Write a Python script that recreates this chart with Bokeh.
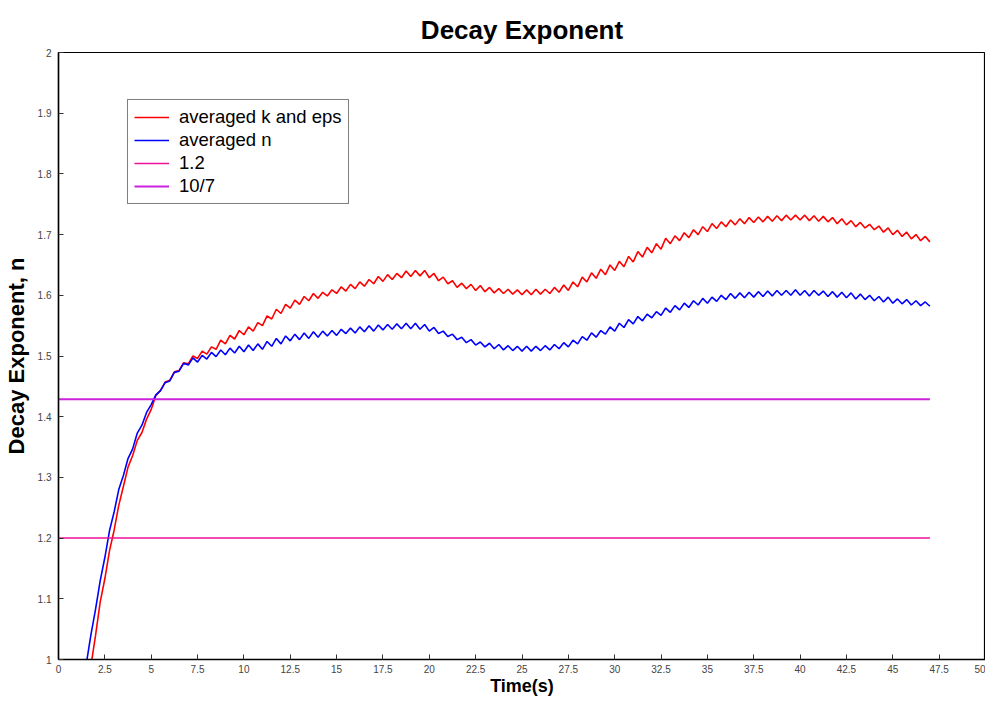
from bokeh.plotting import figure
from bokeh.models import Legend, LegendItem, FixedTicker
from bokeh.embed import file_html
from bokeh.resources import INLINE

# ---------------- data ----------------
t_start = 1.5
t_step = 0.25

averaged_n = [
    0.993, 1.041, 1.083, 1.130, 1.168, 1.212, 1.243, 1.280,
    1.303, 1.331, 1.347, 1.373, 1.386, 1.407, 1.420, 1.436,
    1.443, 1.456, 1.459, 1.473, 1.475, 1.488, 1.485, 1.497,
    1.490, 1.501, 1.495, 1.506, 1.499, 1.510, 1.502, 1.513,
    1.505, 1.516, 1.507, 1.518, 1.509, 1.520, 1.511, 1.524,
    1.516, 1.529, 1.520, 1.533, 1.525, 1.536, 1.527, 1.538,
    1.529, 1.540, 1.531, 1.541, 1.533, 1.542, 1.534, 1.544,
    1.537, 1.546, 1.538, 1.548, 1.540, 1.550, 1.541, 1.551,
    1.543, 1.552, 1.544, 1.553, 1.545, 1.554, 1.545, 1.554,
    1.544, 1.552, 1.541, 1.547, 1.537, 1.541, 1.532, 1.536,
    1.527, 1.531, 1.522, 1.527, 1.518, 1.523, 1.515, 1.521,
    1.512, 1.519, 1.510, 1.517, 1.509, 1.516, 1.508, 1.516,
    1.508, 1.516, 1.509, 1.517, 1.510, 1.519, 1.512, 1.522,
    1.515, 1.526, 1.520, 1.532, 1.526, 1.538, 1.531, 1.542,
    1.536, 1.548, 1.541, 1.554, 1.547, 1.560, 1.553, 1.565,
    1.558, 1.569, 1.563, 1.573, 1.567, 1.579, 1.572, 1.583,
    1.576, 1.587, 1.580, 1.591, 1.584, 1.595, 1.587, 1.597,
    1.590, 1.600, 1.593, 1.603, 1.595, 1.604, 1.596, 1.605,
    1.597, 1.606, 1.598, 1.607, 1.599, 1.608, 1.600, 1.608,
    1.600, 1.609, 1.600, 1.608, 1.599, 1.608, 1.600, 1.607,
    1.598, 1.606, 1.597, 1.605, 1.596, 1.604, 1.594, 1.602,
    1.593, 1.600, 1.591, 1.598, 1.589, 1.597, 1.587, 1.594,
    1.586, 1.593, 1.584, 1.591, 1.583, 1.589, 1.582,
]

averaged_k_eps = [
    0.955, 0.990, 1.040, 1.095, 1.133, 1.179, 1.213, 1.254,
    1.285, 1.317, 1.336, 1.361, 1.374, 1.396, 1.412, 1.435,
    1.443, 1.457, 1.460, 1.474, 1.476, 1.489, 1.487, 1.500,
    1.496, 1.508, 1.503, 1.515, 1.511, 1.526, 1.520, 1.534,
    1.528, 1.542, 1.535, 1.548, 1.541, 1.555, 1.550, 1.566,
    1.561, 1.577, 1.570, 1.585, 1.579, 1.592, 1.585, 1.598,
    1.591, 1.603, 1.595, 1.605, 1.599, 1.609, 1.603, 1.614,
    1.607, 1.618, 1.611, 1.622, 1.615, 1.626, 1.619, 1.631,
    1.623, 1.634, 1.626, 1.636, 1.629, 1.640, 1.631, 1.641,
    1.632, 1.641, 1.629, 1.636, 1.624, 1.630, 1.619, 1.624,
    1.613, 1.620, 1.611, 1.618, 1.608, 1.616, 1.606, 1.613,
    1.604, 1.611, 1.603, 1.610, 1.602, 1.609, 1.601, 1.609,
    1.601, 1.610, 1.602, 1.610, 1.603, 1.613, 1.605, 1.617,
    1.608, 1.622, 1.614, 1.630, 1.622, 1.637, 1.628, 1.643,
    1.634, 1.650, 1.641, 1.656, 1.647, 1.664, 1.655, 1.672,
    1.663, 1.679, 1.670, 1.685, 1.676, 1.694, 1.685, 1.698,
    1.690, 1.703, 1.695, 1.708, 1.700, 1.713, 1.705, 1.718,
    1.710, 1.721, 1.713, 1.724, 1.716, 1.726, 1.718, 1.728,
    1.720, 1.729, 1.721, 1.730, 1.722, 1.731, 1.723, 1.732,
    1.724, 1.732, 1.724, 1.732, 1.723, 1.731, 1.722, 1.730,
    1.721, 1.728, 1.718, 1.726, 1.716, 1.723, 1.713, 1.720,
    1.711, 1.717, 1.708, 1.714, 1.704, 1.711, 1.700, 1.707,
    1.697, 1.704, 1.693, 1.700, 1.690, 1.697, 1.688,
]

time_s = [t_start + t_step * i for i in range(len(averaged_n))]

ref_x = [0, 47]
ref_1_2 = [1.2, 1.2]
ref_10_7 = [10 / 7, 10 / 7]

x_ticks = [0, 2.5, 5, 7.5, 10, 12.5, 15, 17.5, 20, 22.5, 25, 27.5, 30,
           32.5, 35, 37.5, 40, 42.5, 45, 47.5, 50]
y_ticks = [1, 1.1, 1.2, 1.3, 1.4, 1.5, 1.6, 1.7, 1.8, 1.9, 2]
x_tick_labels = {v: ("%g" % v) for v in x_ticks}
y_tick_labels = {v: ("%g" % v) for v in y_ticks}

labels = ["averaged k and eps", "averaged n", "1.2", "10/7"]
colors = ["#ff0000", "#0000ff", "#ee1199", "#cc22dd"]

FONT = "Liberation Sans"

# ---------------- figure ----------------
p = figure(width=985, height=698, x_range=(0, 50), y_range=(1, 2),
           output_backend="svg", toolbar_location=None,
           min_border_left=58, min_border_right=0, min_border_top=52,
           min_border_bottom=0, background_fill_color="white",
           border_fill_color="white")

p.title.text = "Decay Exponent"
p.title.align = "center"
p.title.text_font = FONT
p.title.text_font_size = "26px"
p.title.text_font_style = "bold"
p.title.text_color = "black"
p.title.offset = 0
p.title.standoff = 16

p.xgrid.visible = False
p.ygrid.visible = False
p.outline_line_color = "black"
p.outline_line_width = 1.2

for ax in (p.xaxis[0], p.yaxis[0]):
    ax.axis_line_color = "black"
    ax.axis_line_width = 1.5
    ax.major_tick_in = 5
    ax.major_tick_out = 0
    ax.major_tick_line_color = "#333333"
    ax.minor_tick_line_color = None
    ax.major_label_text_font = FONT
    ax.major_label_text_color = "#444444"
    ax.major_label_text_font_size = "10px"
    ax.axis_label_text_font = FONT
    ax.axis_label_text_font_style = "bold"
    ax.axis_label_text_color = "black"

xa = p.xaxis[0]
ya = p.yaxis[0]
xa.ticker = FixedTicker(ticks=x_ticks)
ya.ticker = FixedTicker(ticks=y_ticks)
xa.major_label_overrides = x_tick_labels
ya.major_label_overrides = y_tick_labels
xa.major_label_standoff = 5
ya.major_label_standoff = 7

xa.axis_label = "Time(s)"
xa.axis_label_text_font_size = "18px"
xa.axis_label_standoff = 0

ya.axis_label = "Decay Exponent, n"
ya.axis_label_text_font_size = "22px"
ya.axis_label_standoff = 6

# ---------------- lines ----------------
r_red = p.line(time_s, averaged_k_eps, line_color=colors[0], line_width=1.6)
r_blue = p.line(time_s, averaged_n, line_color=colors[1], line_width=1.6)
r_12 = p.line(ref_x, ref_1_2, line_color=colors[2], line_width=1.5)
r_107 = p.line(ref_x, ref_10_7, line_color=colors[3], line_width=2)

legend = Legend(items=[LegendItem(label=labels[0], renderers=[r_red]),
                       LegendItem(label=labels[1], renderers=[r_blue]),
                       LegendItem(label=labels[2], renderers=[r_12]),
                       LegendItem(label=labels[3], renderers=[r_107])],
                location=(69, 455))
legend.label_text_font = FONT
legend.label_text_font_size = "18.5px"
legend.label_text_color = "black"
legend.label_height = 20
legend.glyph_height = 20
legend.glyph_width = 35
legend.label_standoff = 10
legend.spacing = 1
legend.padding = 6
legend.margin = 0
legend.border_line_color = "black"
legend.border_line_width = 1.2
legend.background_fill_alpha = 1
p.add_layout(legend, "center")

open("out.html", "w").write(file_html(p, INLINE))
